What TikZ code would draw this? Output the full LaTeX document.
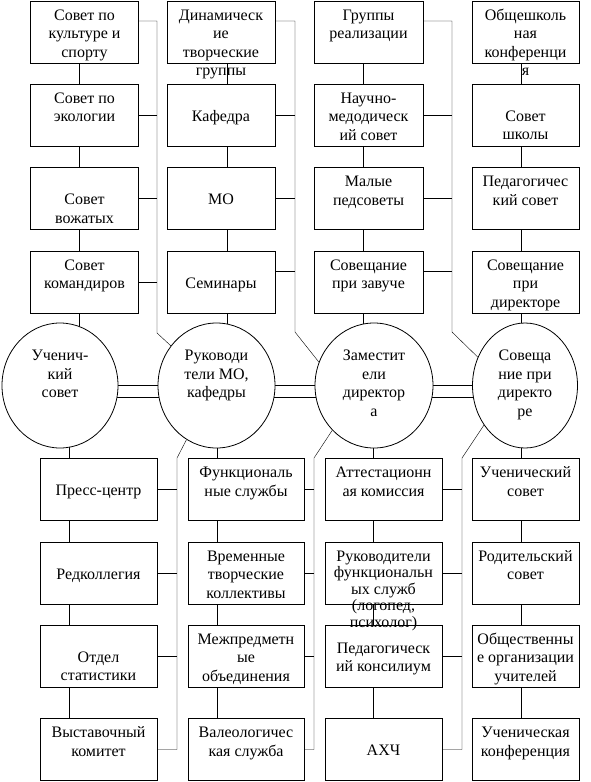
\documentclass[tikz,border=0pt]{standalone}
\usepackage{fontspec}
\setmainfont{Liberation Serif}
\usetikzlibrary{shapes.geometric}

\pgfdeclarelayer{background}
\pgfsetlayers{background,main}

% text of a box, set from the top
\newcommand{\boxtext}[2][19pt]{\parbox[c][62pt][t]{104pt}{\centering\rule{0pt}{#1}#2}}
\newcommand{\ovaltext}[1]{\parbox[c][86pt][t]{70pt}{\centering\rule{0pt}{18pt}#1}}

\tikzset{
    box/.style={draw, rectangle, inner sep=0pt, minimum height=62pt, minimum width=108pt},
    widebox/.style={box, minimum width=117pt},
    oval/.style={draw, ellipse, fill=white, inner sep=0pt, minimum width=117pt, minimum height=125pt}
}

\begin{document}
\begin{tikzpicture}[x=1pt, y=-1pt, line width=0.8pt, font=\fontsize{16}{18.5}\selectfont]

    \useasboundingbox (0,0) rectangle (590,782);

    % upper columns
    \node[box] (t11) at (84.5,32) {\boxtext{Совет по\\культуре и\\спорту}};
    \node[box] (t12) at (84.5,115) {\boxtext{Совет по\\экологии}};
    \node[box] (t13) at (84.5,198.5) {\boxtext[37pt]{Совет\\вожатых}};
    \node[box] (t14) at (84.5,282) {\boxtext{Совет\\командиров}};

    \node[box] (t21) at (221,32) {\boxtext{Динамическ\\ие\\творческие\\группы}};
    \node[box] (t22) at (221,115) {\boxtext[37pt]{Кафедра}};
    \node[box] (t23) at (221,198.5) {\boxtext[37pt]{МО}};
    \node[box] (t24) at (221,282) {\boxtext[37pt]{Семинары}};

    \node[box, minimum width=109pt] (t31) at (368.5,32) {\boxtext{Группы\\реализации}};
    \node[box, minimum width=109pt] (t32) at (368.5,115) {\boxtext{Научно-\\медодическ\\ий совет}};
    \node[box, minimum width=109pt] (t33) at (368.5,198.5) {\boxtext{Малые\\педсоветы}};
    \node[box, minimum width=109pt] (t34) at (368.5,282) {\boxtext{Совещание\\при завуче}};

    \node[box, minimum width=107pt] (t41) at (525.5,32) {\boxtext{Общешколь\\ная\\конференци\\я}};
    \node[box, minimum width=107pt] (t42) at (525.5,115) {\boxtext[37pt]{Совет\\школы}};
    \node[box, minimum width=107pt] (t43) at (525.5,198.5) {\boxtext{Педагогичес\\кий совет}};
    \node[box, minimum width=107pt] (t44) at (525.5,282) {\boxtext{Совещание\\при\\директоре}};

    % ovals
    \node[oval, minimum width=116pt] (o1) at (60,385.5) {\ovaltext{Ученич-\\кий\\совет}};
    \node[oval] (o2) at (216.5,385.5) {\ovaltext{Руководи\\тели МО,\\кафедры}};
    \node[oval, minimum width=118pt] (o3) at (374,385.5) {\ovaltext{Заместит\\ели\\директор\\а}};
    \node[oval, minimum width=105pt] (o4) at (525,385.5) {\ovaltext{Совеща\\ние при\\директо\\ре}};

    % lower columns
    \node[widebox] (b11) at (98.5,489.5) {\boxtext[37pt]{Пресс-центр}};
    \node[widebox] (b12) at (98.5,573) {\boxtext[37pt]{Редколлегия}};
    \node[widebox] (b13) at (98.5,656) {\boxtext[37pt]{Отдел\\статистики}};
    \node[widebox] (b14) at (98.5,749.5) {\boxtext{Выставочный\\комитет}};

    \node[widebox, minimum width=116pt] (b21) at (246,489.5) {\boxtext{Функциональ\\ные службы}};
    \node[widebox, minimum width=116pt] (b22) at (246,573) {\boxtext{Временные\\творческие\\коллективы}};
    \node[widebox, minimum width=116pt] (b23) at (246,656) {\boxtext{Межпредметн\\ые\\объединения}};
    \node[widebox, minimum width=116pt] (b24) at (246,749.5) {\boxtext{Валеологичес\\кая служба}};

    \node[widebox] (b31) at (383.5,489.5) {\boxtext{Аттестационн\\ая комиссия}};
    \node[widebox] (b32) at (383.5,573) {\boxtext{\fontsize{16}{16.5}\selectfont Руководители\\функциональн\\ых служб\\(логопед,\\психолог)}};
    \node[widebox] (b33) at (383.5,656) {\boxtext[28pt]{Педагогическ\\ий консилиум}};
    \node[widebox] (b34) at (383.5,749.5) {\boxtext[37pt]{АХЧ}};

    \node[box, minimum width=107pt] (b41) at (525.5,489.5) {\boxtext{Ученический\\совет}};
    \node[box, minimum width=107pt] (b42) at (525.5,573) {\boxtext{Родительский\\совет}};
    \node[box, minimum width=107pt] (b43) at (525.5,656) {\boxtext{Общественны\\е организации\\учителей}};
    \node[box, minimum width=107pt] (b44) at (525.5,749.5) {\boxtext{Ученическая\\конференция}};

    % lines of the columns and bus corners
    \coordinate (xa1) at (79,0);
    \coordinate (xa2) at (227,0);
    \coordinate (xa3) at (363,0);
    \coordinate (xa4) at (521,0);
    \coordinate (xb1) at (69,0);
    \coordinate (xb2) at (217,0);
    \coordinate (xb3) at (373,0);
    \coordinate (xb4) at (521,0);
    \coordinate (u1) at (157,333);
    \coordinate (u2) at (295,332);
    \coordinate (u3) at (452,332);
    \coordinate (d1) at (177,458);
    \coordinate (d2) at (314,458);
    \coordinate (d3) at (462,458);

    \begin{pgfonlayer}{background}
        \foreach \c in {1,...,4} {
            \draw (t\c1.south -| xa\c) -- (t\c2.north -| xa\c)
                  (t\c2.south -| xa\c) -- (t\c3.north -| xa\c)
                  (t\c3.south -| xa\c) -- (t\c4.north -| xa\c)
                  (t\c4.south -| xa\c) -- (o\c.center -| xa\c);
            \draw (o\c.center -| xb\c) -- (b\c1.north -| xb\c)
                  (b\c1.south -| xb\c) -- (b\c2.north -| xb\c)
                  (b\c2.south -| xb\c) -- (b\c3.north -| xb\c)
                  (b\c3.south -| xb\c) -- (b\c4.north -| xb\c);
        }

        % double links between the ovals
        \foreach \a/\b in {1/2, 2/3, 3/4}
            \draw (o\a.center) -- (o\b.center)
                  ([yshift=-12pt]o\a.center) -- ([yshift=-12pt]o\b.center);
    \end{pgfonlayer}

    % upper buses
    \draw ([yshift=11pt]t11.east) -| (u1) -- (o2.139);
    \draw (t12.east) -- (t12.east -| u1);
    \draw (t13.east) -- (t13.east -| u1);
    \draw (t14.east) -- (t14.east -| u1);

    \draw ([yshift=11pt]t21.east) -| (u2) -- (o3.157);
    \draw (t22.east) -- (t22.east -| u2);
    \draw (t23.east) -- (t23.east -| u2);
    \draw ([yshift=11pt]t24.east) -- ([yshift=11pt]t24.east -| u2);

    \draw ([yshift=11pt]t31.east) -| (u3) -- (o4.149);
    \draw (t32.east) -- (t32.east -| u3);
    \draw (t33.east) -- (t33.east -| u3);
    \draw ([yshift=11pt]t34.east) -- ([yshift=11pt]t34.east -| u3);

    % lower buses
    \draw (b14.east) -| (d1) -- (o2.241);
    \draw (b11.east) -- (b11.east -| d1);
    \draw (b12.east) -- (b12.east -| d1);
    \draw (b13.east) -- (b13.east -| d1);

    \draw (b24.east) -| (d2) -- (o3.227);
    \draw (b21.east) -- (b21.east -| d2);
    \draw (b22.east) -- (b22.east -| d2);
    \draw (b23.east) -- (b23.east -| d2);

    \draw (b34.east) -| (d3) -- (o4.224);
    \draw (b31.east) -- (b31.east -| d3);
    \draw (b32.east) -- (b32.east -| d3);
    \draw (b33.east) -- (b33.east -| d3);

\end{tikzpicture}
\end{document}
